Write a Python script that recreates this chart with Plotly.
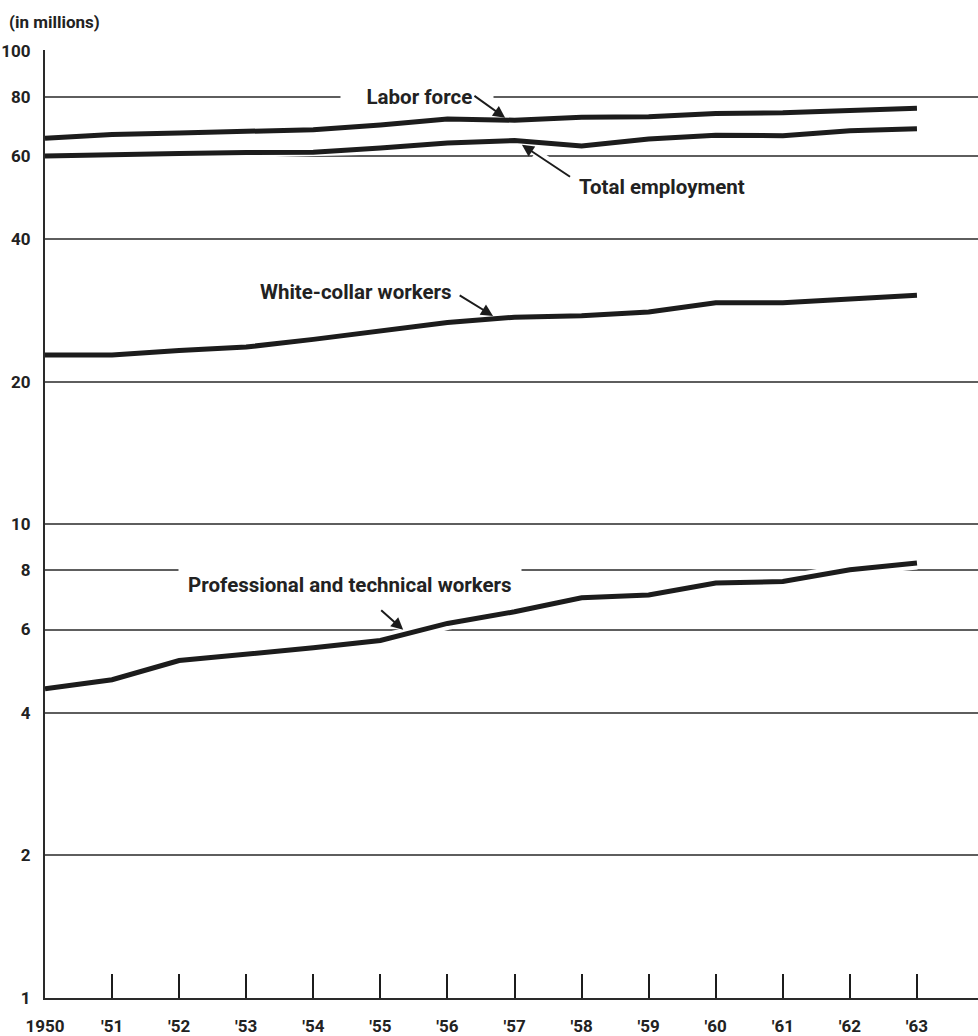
import math
import plotly.graph_objects as go

# Civilian work force series, 1950-1963 (millions, ratio scale)
years = list(range(1950, 1964))
labor_force = [65.4, 66.6, 67.1, 67.5, 68.2, 69.8, 71.8, 71.4, 72.4, 72.6, 73.8, 74.0, 74.9, 75.7]
total_employment = [60.0, 60.5, 60.7, 61.0, 61.1, 62.4, 63.9, 64.7, 63.0, 65.2, 66.4, 66.2, 67.8, 68.5]
white_collar = [22.8, 22.8, 23.3, 23.7, 24.6, 25.7, 26.7, 27.4, 27.6, 28.1, 29.4, 29.4, 30.0, 30.5]
professional = [4.50, 4.70, 5.16, 5.32, 5.49, 5.69, 6.18, 6.54, 7.00, 7.10, 7.52, 7.58, 8.02, 8.29]

y_ticks = [1, 2, 4, 6, 8, 10, 20, 40, 60, 80, 100]
x_ticktext = ["1950", "'51", "'52", "'53", "'54", "'55", "'56", "'57",
              "'58", "'59", "'60", "'61", "'62", "'63"]

FONT = "Roboto, Noto Sans, sans-serif"
INK = "#1c1c1c"
TEXT = "#222222"
GRID = "#5e5e5e"

fig = go.Figure()

series = [labor_force, total_employment, white_collar, professional]

# white halo under every line so grid rules break where a curve crosses them
for s in series:
    fig.add_trace(go.Scatter(x=years, y=s, mode="lines",
                             line=dict(color="white", width=13),
                             hoverinfo="skip", showlegend=False))
for s in series:
    fig.add_trace(go.Scatter(x=years, y=s, mode="lines",
                             line=dict(color=INK, width=5),
                             hoverinfo="skip", showlegend=False))

L = math.log10
label_font = dict(family=FONT, size=20.5, color=TEXT, weight="bold")
nb = "\u00a0"

annotations = [
    # series labels
    dict(x=1955.55, y=L(80), text=nb * 5 + "Labor force" + nb * 4,
         showarrow=False, bgcolor="white", borderpad=0, font=label_font),
    dict(x=1959.2, y=1.7134, text="Total employment",
         showarrow=False, font=label_font),
    dict(x=1954.64, y=1.4900, text="White-collar workers",
         showarrow=False, font=label_font),
    dict(x=1954.55, y=0.8725, text=nb + "Professional and technical workers" + nb,
         showarrow=False, bgcolor="white", borderpad=4, font=label_font),
    # white break in the 60 rule under the employment pointer
    dict(x=1957.30, y=1.7840, ax=1957.85, ay=1.7323, axref="x", ayref="y",
         text="", showarrow=True, arrowhead=0, arrowwidth=10, arrowcolor="white"),
    # pointers
    dict(x=1956.86, y=1.8588, ax=1956.38, ay=1.9073, axref="x", ayref="y",
         text="", showarrow=True, arrowhead=2, arrowsize=1.2, arrowwidth=2, arrowcolor=INK),
    dict(x=1957.11, y=1.8019, ax=1957.85, ay=1.7323, axref="x", ayref="y",
         text="", showarrow=True, arrowhead=2, arrowsize=1.2, arrowwidth=2, arrowcolor=INK),
    dict(x=1956.68, y=1.4405, ax=1956.16, ay=1.4858, axref="x", ayref="y",
         text="", showarrow=True, arrowhead=2, arrowsize=1.2, arrowwidth=2, arrowcolor=INK),
    dict(x=1955.34, y=0.7777, ax=1954.99, ay=0.8219, axref="x", ayref="y",
         text="", showarrow=True, arrowhead=2, arrowsize=1.2, arrowwidth=2, arrowcolor=INK),
    # unit note
    dict(xref="paper", yref="paper", x=-0.041, y=1.0295, xanchor="left", yanchor="middle",
         text="(in millions)", showarrow=False,
         font=dict(family=FONT, size=17, color=TEXT, weight="bold")),
]

tick_font = dict(family=FONT, size=17, color=TEXT, weight="bold")

fig.update_layout(
    width=978, height=1036,
    margin=dict(l=45, r=0, t=50, b=36),
    paper_bgcolor="white", plot_bgcolor="white",
    showlegend=False,
    annotations=annotations,
    xaxis=dict(
        range=[1950, 1963.91],
        tickvals=years, ticktext=x_ticktext,
        ticks="inside", ticklen=24, tickwidth=2, tickcolor=INK,
        showline=True, linewidth=2, linecolor="#2a2a2a",
        showgrid=False, zeroline=False,
        ticklabelstandoff=12,
        tickfont=tick_font,
    ),
    yaxis=dict(
        type="log", range=[0, 2.002],
        tickvals=y_ticks, ticktext=[str(v) for v in y_ticks],
        ticks="", showline=True, linewidth=2, linecolor="#2a2a2a",
        showgrid=True, gridcolor=GRID, gridwidth=1.5,
        zeroline=False, ticklabelstandoff=9,
        tickfont=tick_font,
    ),
)

fig.write_html("out.html", config={"displayModeBar": False})
